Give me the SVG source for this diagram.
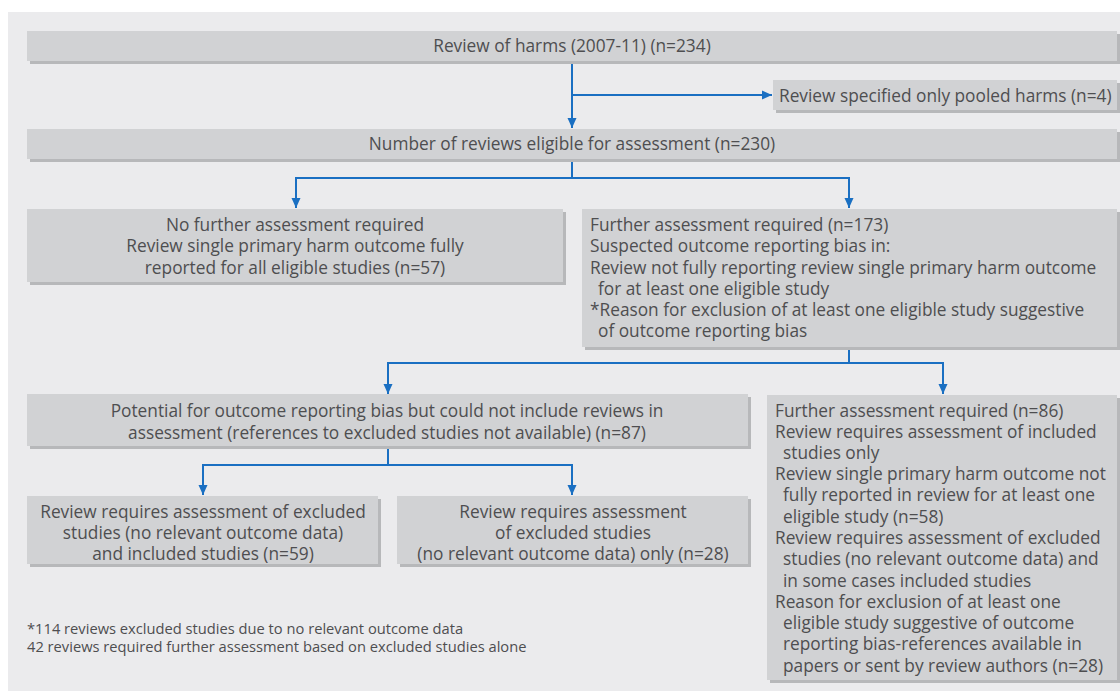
<svg xmlns="http://www.w3.org/2000/svg" width="1120" height="691" viewBox="0 0 1120 691">
<defs>
<style>
.box{fill:#d1d2d4}
.sh{fill:#b7b8ba}
.t{font-family:"Open Sans","Noto Sans",sans-serif;font-size:17.3px;fill:#4e4e50}
.c{text-anchor:middle}
.fn{font-family:"Open Sans","Noto Sans",sans-serif;font-size:14.7px;fill:#4e4e50}
.ln{fill:none;stroke:#1a6fc2;stroke-width:2}
</style>
<marker id="ah" markerUnits="userSpaceOnUse" markerWidth="10" markerHeight="10" refX="10" refY="5" orient="auto">
<path d="M0,0.5 L10,5 L0,9.5 z" fill="#1a6fc2"/>
</marker>
</defs>
<rect x="8" y="12" width="1112" height="679" fill="#ebebed"/>

<g id="connectors">
<path class="ln" d="M572,61 V128" marker-end="url(#ah)"/>
<path class="ln" d="M572,95 H772" marker-end="url(#ah)"/>
<path class="ln" d="M572,159 V178"/>
<path class="ln" d="M296,178 H849"/>
<path class="ln" d="M296,177 V208" marker-end="url(#ah)"/>
<path class="ln" d="M849,177 V208" marker-end="url(#ah)"/>
<path class="ln" d="M849,347 V363"/>
<path class="ln" d="M388,363 H943"/>
<path class="ln" d="M388,362 V394" marker-end="url(#ah)"/>
<path class="ln" d="M943,362 V394" marker-end="url(#ah)"/>
<path class="ln" d="M388,446 V465"/>
<path class="ln" d="M203,465 H572"/>
<path class="ln" d="M203,464 V495" marker-end="url(#ah)"/>
<path class="ln" d="M572,464 V495" marker-end="url(#ah)"/>
</g>

<g id="n1">
<rect class="sh" x="30" y="34" width="1090" height="30"/>
<rect class="box" x="27" y="31" width="1090" height="30"/>
<text class="t c" x="572" y="52">Review of harms (2007-11) (n=234)</text>
</g>

<g id="n2">
<rect class="sh" x="776" y="83" width="344" height="30"/>
<rect class="box" x="773" y="80" width="344" height="30"/>
<text class="t" x="779" y="102">Review specified only pooled harms (n=4)</text>
</g>

<g id="n3">
<rect class="sh" x="30" y="132" width="1090" height="30"/>
<rect class="box" x="27" y="129" width="1090" height="30"/>
<text class="t c" x="572" y="150">Number of reviews eligible for assessment (n=230)</text>
</g>

<g id="n4">
<rect class="sh" x="30" y="212" width="536" height="73"/>
<rect class="box" x="27" y="209" width="536" height="73"/>
<text class="t c" x="295" y="231">No further assessment required</text>
<text class="t c" x="295" y="252">Review single primary harm outcome fully</text>
<text class="t c" x="295" y="274">reported for all eligible studies (n=57)</text>
</g>

<g id="n5">
<rect class="sh" x="585" y="212" width="535" height="138"/>
<rect class="box" x="582" y="209" width="535" height="138"/>
<text class="t" x="590" y="231">Further assessment required (n=173)</text>
<text class="t" x="590" y="252">Suspected outcome reporting bias in:</text>
<text class="t" x="590" y="274">Review not fully reporting review single primary harm outcome</text>
<text class="t" x="598" y="295">for at least one eligible study</text>
<text class="t" x="590" y="316">*Reason for exclusion of at least one eligible study suggestive</text>
<text class="t" x="598" y="337">of outcome reporting bias</text>
</g>

<g id="n6">
<rect class="sh" x="30" y="397" width="721" height="52"/>
<rect class="box" x="27" y="394" width="721" height="52"/>
<text class="t c" x="387" y="417">Potential for outcome reporting bias but could not include reviews in</text>
<text class="t c" x="387" y="439">assessment (references to excluded studies not available) (n=87)</text>
</g>

<g id="n7">
<rect class="sh" x="770" y="398" width="350" height="285"/>
<rect class="box" x="767" y="395" width="350" height="285"/>
<text class="t" x="775" y="417">Further assessment required (n=86)</text>
<text class="t" x="775" y="438">Review requires assessment of included</text>
<text class="t" x="783" y="459">studies only</text>
<text class="t" x="775" y="480">Review single primary harm outcome not</text>
<text class="t" x="783" y="501">fully reported in review for at least one</text>
<text class="t" x="783" y="523">eligible study (n=58)</text>
<text class="t" x="775" y="544">Review requires assessment of excluded</text>
<text class="t" x="783" y="565">studies (no relevant outcome data) and</text>
<text class="t" x="783" y="587">in some cases included studies</text>
<text class="t" x="775" y="608">Reason for exclusion of at least one</text>
<text class="t" x="783" y="629">eligible study suggestive of outcome</text>
<text class="t" x="783" y="650">reporting bias-references available in</text>
<text class="t" x="783" y="672">papers or sent by review authors (n=28)</text>
</g>

<g id="n8">
<rect class="sh" x="30" y="499" width="351" height="68"/>
<rect class="box" x="27" y="496" width="351" height="68"/>
<text class="t c" x="203" y="518">Review requires assessment of excluded</text>
<text class="t c" x="203" y="539">studies (no relevant outcome data)</text>
<text class="t c" x="203" y="560">and included studies (n=59)</text>
</g>

<g id="n9">
<rect class="sh" x="400" y="499" width="351" height="68"/>
<rect class="box" x="397" y="496" width="351" height="68"/>
<text class="t c" x="573" y="518">Review requires assessment</text>
<text class="t c" x="573" y="539">of excluded studies</text>
<text class="t c" x="573" y="560">(no relevant outcome data) only (n=28)</text>
</g>

<g id="footnote">
<text class="fn" x="27" y="634">*114 reviews excluded studies due to no relevant outcome data</text>
<text class="fn" x="27" y="652">42 reviews required further assessment based on excluded studies alone</text>
</g>
</svg>
